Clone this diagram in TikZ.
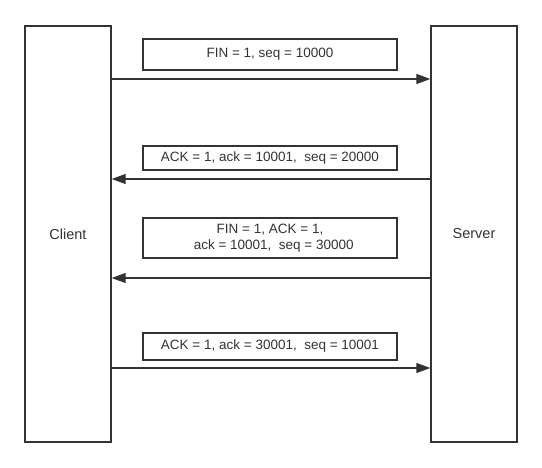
\documentclass[tikz,border=0pt]{standalone}
\usepackage{fontspec}
\setmainfont{Liberation Sans}
\usepackage{xcolor}
\usetikzlibrary{arrows.meta}

\definecolor{linegray}{HTML}{333333}

\begin{document}
\begin{tikzpicture}[x=1pt, y=-1pt, line width=1.4pt, draw=linegray,
        host/.style={rectangle, draw, minimum width=86pt, minimum height=416pt,
        font=\fontsize{14.5}{17}\selectfont, text=linegray},
        msgbox/.style={rectangle, draw, minimum width=254pt, inner sep=1pt,
        font=\fontsize{13.5}{16}\selectfont, text=linegray, align=center},
        msg/.style={-{Triangle[length=14pt, width=10pt]}, line width=1.3pt, draw=linegray}]
        \useasboundingbox (0,0) rectangle (542,468);

        \node[host] (client) at (68, 234) {Client};
        \node[host] (server) at (474, 234) {Server};

        \node[msgbox, minimum height=31pt] (m1) at (270, 54.5) {FIN = 1, seq = 10000};
        \node[msgbox, minimum height=24pt] (m2) at (270, 158) {ACK = 1, ack = 10001,~~seq = 20000};
        \node[msgbox, minimum height=40pt] (m3) at (270, 238) {FIN = 1, ACK = 1,\\ ~~ack = 10001,~~seq = 30000};
        \node[msgbox, minimum height=27pt] (m4) at (270, 346.5) {ACK = 1, ack = 30001,~~seq = 10001};

        \coordinate (a1) at (270, 79);
        \coordinate (a2) at (270, 179);
        \coordinate (a3) at (270, 278);
        \coordinate (a4) at (270, 368);

        \draw[msg] (client.east |- a1) -- (server.west |- a1);
        \draw[msg] (server.west |- a2) -- (client.east |- a2);
        \draw[msg] (server.west |- a3) -- (client.east |- a3);
        \draw[msg] (client.east |- a4) -- (server.west |- a4);
    \end{tikzpicture}
\end{document}
